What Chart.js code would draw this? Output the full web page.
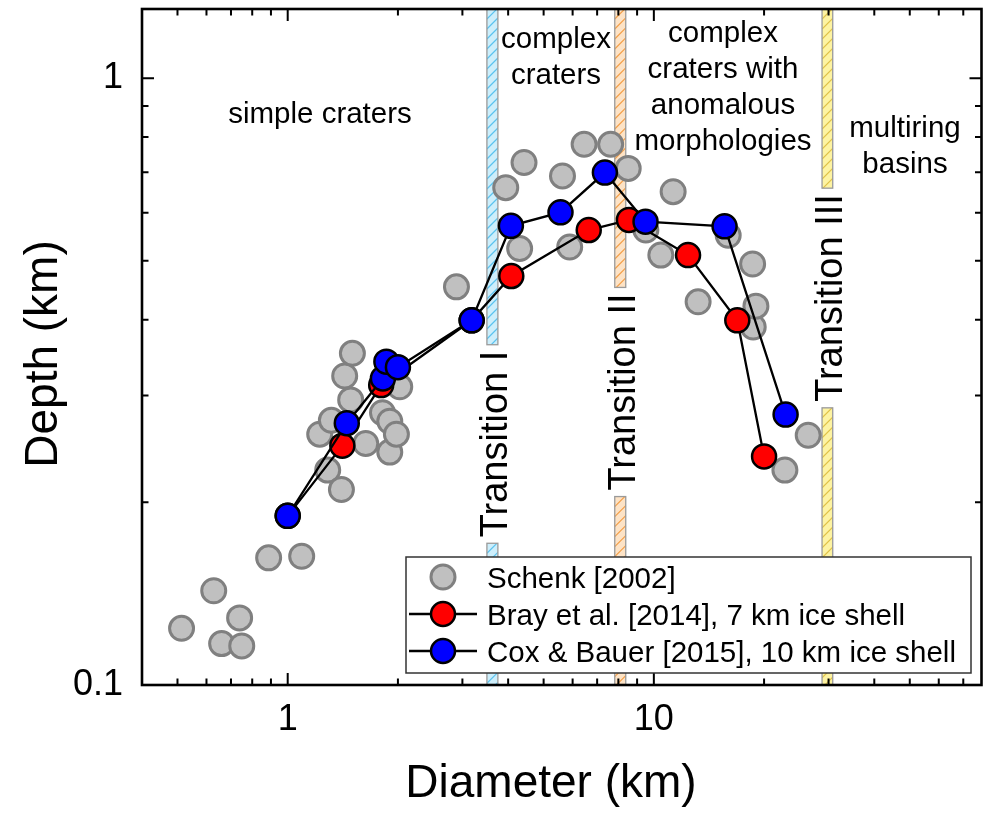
<!DOCTYPE html>
<html><head><meta charset="utf-8">
<script src="https://cdn.jsdelivr.net/npm/chart.js@4.4.1/dist/chart.umd.min.js"></script>
<style>html,body{margin:0;padding:0;background:#fff;}canvas{display:block;}</style>
</head><body>
<canvas id="c" width="983" height="821"></canvas>
<script>
const FONT = '"Liberation Sans", Arial, Helvetica, sans-serif';

// ---- data (Diameter km, Depth km) ----
const schenkDiameter = [0.513,0.628,0.660,0.739,0.749,0.887,1.092,1.286,1.223,1.316,1.402,1.431,1.486,1.502,1.634,1.815,1.900,1.900,1.981,2.023,2.89,3.94,4.30,4.42,5.63,5.89,6.45,7.62,8.51,9.51,10.45,11.29,13.21,15.96,18.61,18.68,19.0,22.8,26.4];
const schenkDepth    = [0.124,0.143,0.117,0.129,0.116,0.162,0.163,0.226,0.259,0.273,0.210,0.323,0.295,0.352,0.250,0.281,0.272,0.242,0.259,0.310,0.453,0.660,0.524,0.726,0.690,0.527,0.778,0.778,0.710,0.562,0.511,0.650,0.428,0.551,0.494,0.389,0.421,0.226,0.258];

const brayDiameter = [1.0,1.41,1.80,3.18,4.08,6.64,8.55,12.4,16.9,20.0];
const brayDepth    = [0.19,0.248,0.312,0.399,0.472,0.562,0.584,0.511,0.399,0.238];

const coxDiameter = [1.0,1.45,1.82,1.86,2.0,3.18,4.07,5.56,7.35,9.49,15.6,22.9];
const coxDepth    = [0.19,0.270,0.320,0.341,0.334,0.399,0.571,0.601,0.699,0.580,0.570,0.279];

const seriesNames = ['Schenk [2002]', 'Bray et al. [2014], 7 km ice shell', 'Cox & Bauer [2015], 10 km ice shell'];

// transitions (diameter ranges, km)
const transitionNames = ['Transition I', 'Transition II', 'Transition III'];
const transitionFrom  = [3.50, 7.82, 28.8];
const transitionTo    = [3.75, 8.38, 30.8];

// ticks
const xMajorTicks = [1, 10];
const xMinorTicks = [0.4,0.5,0.6,0.7,0.8,0.9,2,3,4,5,6,7,8,9,20,30,40,50,60,70];
const yMajorTicks = [0.1, 1];
const yMinorTicks = [0.2,0.3,0.4,0.5,0.6,0.7,0.8,0.9];
const xRange = [0.4, 78.5];
const yRange = [0.1, 1.3];

// region labels
const regionLabels = [
  {lines:['simple craters'], x:320, y:123},
  {lines:['complex','craters'], x:556, y:48},
  {lines:['complex','craters with','anomalous','morphologies'], x:723, y:41.5},
  {lines:['multiring','basins'], x:905, y:136.5}
];
const transitionLabelCenterY = [444, 392, 298];

const toXY = (xs, ys) => xs.map((v, i) => ({x: v, y: ys[i]}));

const decor = {
  id: 'decor',
  beforeDatasetsDraw(chart) {
    const {ctx, chartArea: ca, scales: {x, y}} = chart;
    const colors = [
      {fill:'#cdeefb', hatch:'#5cc3ef'},
      {fill:'#fde3c6', hatch:'#f4a04a'},
      {fill:'#fdf3a2', hatch:'#e0c24a'}
    ];
    ctx.save();
    ctx.font = `38px ${FONT}`;
    transitionNames.forEach((name, i) => {
      const xl = x.getPixelForValue(transitionFrom[i]);
      const xr = x.getPixelForValue(transitionTo[i]);
      const xc = (xl + xr) / 2;
      const tw = ctx.measureText(name).width;
      const yc = transitionLabelCenterY[i];
      const gapTop = yc - tw / 2 - 6, gapBot = yc + tw / 2 + 6;
      const pieces = [[ca.top, gapTop], [gapBot, ca.bottom]];
      pieces.forEach(([t, b]) => {
        ctx.save();
        ctx.beginPath(); ctx.rect(xl, t, xr - xl, b - t); ctx.clip();
        ctx.fillStyle = colors[i].fill; ctx.fillRect(xl, t, xr - xl, b - t);
        ctx.strokeStyle = colors[i].hatch; ctx.lineWidth = 1.2;
        ctx.beginPath();
        const w = xr - xl;
        for (let yy = t - w; yy < b + w; yy += 10) {
          ctx.moveTo(xl, yy + w); ctx.lineTo(xr, yy);
        }
        ctx.stroke();
        ctx.restore();
        ctx.strokeStyle = '#9a9a9a'; ctx.lineWidth = 1.3;
        ctx.strokeRect(xl, t, xr - xl, b - t);
      });
      ctx.save();
      ctx.translate(xc, yc); ctx.rotate(-Math.PI / 2);
      ctx.fillStyle = '#000'; ctx.textAlign = 'center'; ctx.textBaseline = 'alphabetic';
      ctx.fillText(name, 0, 14.6);
      ctx.restore();
    });
    ctx.font = `29.5px ${FONT}`;
    ctx.fillStyle = '#000'; ctx.textAlign = 'center'; ctx.textBaseline = 'alphabetic';
    regionLabels.forEach(r => r.lines.forEach((l, k) => ctx.fillText(l, r.x, r.y + k * 36.3)));
    ctx.restore();
  },
  afterDatasetsDraw(chart) {
    const {ctx, chartArea: ca, scales: {x, y}} = chart;
    ctx.save();
    ctx.strokeStyle = '#000'; ctx.lineWidth = 2;
    ctx.beginPath();
    const xt = (v, len) => { const p = x.getPixelForValue(v); ctx.moveTo(p, ca.bottom); ctx.lineTo(p, ca.bottom - len); ctx.moveTo(p, ca.top); ctx.lineTo(p, ca.top + len); };
    const yt = (v, len) => { const p = y.getPixelForValue(v); ctx.moveTo(ca.left, p); ctx.lineTo(ca.left + len, p); ctx.moveTo(ca.right, p); ctx.lineTo(ca.right - len, p); };
    xMajorTicks.forEach(v => xt(v, 12)); xMinorTicks.forEach(v => xt(v, 6.5));
    yMajorTicks.forEach(v => yt(v, 12)); yMinorTicks.forEach(v => yt(v, 6.5));
    ctx.stroke();
    ctx.lineWidth = 2.6;
    ctx.strokeRect(ca.left, ca.top, ca.right - ca.left, ca.bottom - ca.top);

    // legend
    const L = {x:406, y:557, w:565, h:116};
    ctx.fillStyle = '#fff'; ctx.fillRect(L.x, L.y, L.w, L.h);
    ctx.strokeStyle = '#333'; ctx.lineWidth = 1.5; ctx.strokeRect(L.x, L.y, L.w, L.h);
    const rows = [577, 614, 651];
    ctx.font = `29.5px ${FONT}`; ctx.textAlign = 'left'; ctx.textBaseline = 'alphabetic';
    chart.data.datasets.forEach((ds, i) => {
      const ry = rows[i];
      if (ds.showLine) {
        ctx.strokeStyle = ds.borderColor; ctx.lineWidth = ds.borderWidth;
        ctx.beginPath(); ctx.moveTo(409, ry); ctx.lineTo(477, ry); ctx.stroke();
      }
      ctx.beginPath(); ctx.arc(443, ry, ds.pointRadius, 0, Math.PI * 2);
      ctx.fillStyle = ds.pointBackgroundColor; ctx.fill();
      ctx.strokeStyle = ds.pointBorderColor; ctx.lineWidth = ds.pointBorderWidth; ctx.stroke();
      ctx.fillStyle = '#000';
      ctx.fillText(ds.label, 487, ry + 10.5);
    });
    ctx.restore();
  },
  afterDraw(chart) {
    const {ctx} = chart;
    ctx.save();
    ctx.fillStyle = '#000'; ctx.font = `46px ${FONT}`;
    ctx.textAlign = 'center'; ctx.textBaseline = 'alphabetic';
    ctx.fillText('Diameter (km)', 551, 797);
    ctx.translate(57, 354); ctx.rotate(-Math.PI / 2);
    ctx.fillText('Depth (km)', 0, 0);
    ctx.restore();
  }
};

const fixScale = (size, horiz) => (s) => {
  if (horiz) s.height = size; else s.width = size;
  s.paddingTop = 0; s.paddingBottom = 0; s.paddingLeft = 0; s.paddingRight = 0;
};

new Chart(document.getElementById('c'), {
  type: 'scatter',
  data: {
    datasets: [
      {label: seriesNames[0], data: toXY(schenkDiameter, schenkDepth), showLine: false,
       pointRadius: 12, pointBackgroundColor: '#c0c0c0', pointBorderColor: '#808080', pointBorderWidth: 3,
       backgroundColor: '#c0c0c0', borderColor: '#808080', order: 3},
      {label: seriesNames[1], data: toXY(brayDiameter, brayDepth), showLine: true,
       borderColor: '#000', borderWidth: 2.3, backgroundColor: '#ff0000',
       pointRadius: 12, pointBackgroundColor: '#ff0000', pointBorderColor: '#000', pointBorderWidth: 2.5, order: 2},
      {label: seriesNames[2], data: toXY(coxDiameter, coxDepth), showLine: true,
       borderColor: '#000', borderWidth: 2.3, backgroundColor: '#0000ff',
       pointRadius: 12, pointBackgroundColor: '#0000ff', pointBorderColor: '#000', pointBorderWidth: 2.5, order: 1}
    ]
  },
  options: {
    responsive: false, animation: false, events: [],
    layout: {autoPadding: false, padding: {top: 9, right: 1.5, left: 0, bottom: 0}},
    plugins: {legend: {display: false}, tooltip: {enabled: false}},
    scales: {
      x: {type: 'logarithmic', position: 'bottom', min: xRange[0], max: xRange[1],
          grid: {display: false, drawTicks: false}, border: {display: false},
          afterBuildTicks: s => { s.ticks = xMajorTicks.map(v => ({value: v})); },
          afterFit: fixScale(136, true),
          ticks: {autoSkip: false, maxRotation: 0, padding: 13, color: '#000',
                  font: {family: FONT, size: 36}, callback: v => String(v)}},
      y: {type: 'logarithmic', position: 'left', min: yRange[0], max: yRange[1],
          grid: {display: false, drawTicks: false}, border: {display: false},
          afterBuildTicks: s => { s.ticks = yMajorTicks.map(v => ({value: v})); },
          afterFit: fixScale(142, false),
          ticks: {autoSkip: false, padding: 19, color: '#000',
                  font: {family: FONT, size: 36}, callback: v => String(v)}}
    }
  },
  plugins: [decor]
});
</script>
</body></html>
